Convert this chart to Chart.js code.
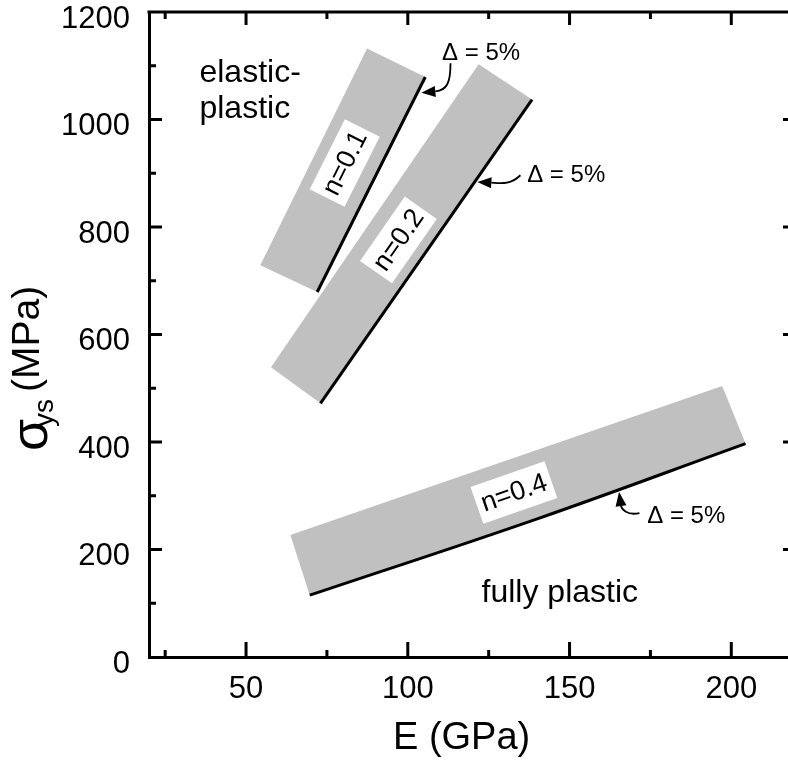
<!DOCTYPE html>
<html>
<head>
<meta charset="utf-8">
<script src="https://cdn.jsdelivr.net/npm/chart.js@4"></script>
<style>
  html, body { margin: 0; padding: 0; background: #fff; overflow: hidden; }
  canvas { display: block; }
</style>
</head>
<body>
<canvas id="c" width="820" height="768"></canvas>
<script>
// Yield strength vs. elastic modulus: bands of constant hardening exponent n
const xMajorTicks = [50, 100, 150, 200];
const xMinorTicks = [25, 75, 125, 175];
const yMajorTicks = [0, 200, 400, 600, 800, 1000, 1200];
const yMinorTicks = [100, 300, 500, 700, 900, 1100];

// grey bands (E in GPa, sigma_ys in MPa), closed outlines
const bandN01 = [{x: 87.4, y: 1132}, {x: 105.4, y: 1079}, {x: 72.0, y: 679}, {x: 54.4, y: 729}, {x: 87.4, y: 1132}];
const bandN02 = [{x: 121.9, y: 1103}, {x: 138.4, y: 1037}, {x: 73.0, y: 472}, {x: 57.7, y: 539}, {x: 121.9, y: 1103}];
const bandN04 = [{x: 63.7, y: 227}, {x: 197.2, y: 504}, {x: 204.4, y: 397}, {x: 140.0, y: 257}, {x: 69.7, y: 115}, {x: 63.7, y: 227}];

// Delta = 5% boundary of each band
const edgeN01 = [{x: 105.4, y: 1079}, {x: 72.0, y: 679}];
const edgeN02 = [{x: 138.4, y: 1037}, {x: 73.0, y: 472}];
const edgeN04 = [{x: 69.7, y: 115}, {x: 140.0, y: 257}, {x: 204.4, y: 397}];

const bandLabels = ['n=0.1', 'n=0.2', 'n=0.4'];
const bandLabelAt = [{x: 80.5, y: 919}, {x: 97.1, y: 776}, {x: 132.8, y: 306}];

const deltaText = '\u0394 = 5%';
const deltaTextAt = [{x: 110.6, y: 1110}, {x: 136.9, y: 884}, {x: 174.0, y: 249}];
// each arrow: start, control 1, control 2, tip
const deltaArrows = [
  [{x: 113.2, y: 1104.6}, {x: 113.2, y: 1069.3}, {x: 112.2, y: 1054.4}, {x: 104.2, y: 1049.8}],
  [{x: 134.8, y: 896.3}, {x: 131.7, y: 877.7}, {x: 128.6, y: 881.5}, {x: 121.5, y: 883.9}],
  [{x: 171.6, y: 267.8}, {x: 167.6, y: 262.2}, {x: 166.0, y: 277.2}, {x: 165.3, y: 306.8}]
];

const regionText = ['elastic-', 'plastic', 'fully plastic'];
const regionTextAt = [{x: 35.6, y: 1069}, {x: 35.6, y: 1002}, {x: 122.8, y: 103}];

const FONT = '"Liberation Sans", Arial, Helvetica, sans-serif';
Chart.defaults.font.family = FONT;
Chart.defaults.color = '#000';

const edges = [edgeN01, edgeN02, edgeN04];

const annotate = {
  id: 'annotate',
  afterDatasetsDraw(chart) {
    const {ctx, scales: {x, y}} = chart;
    const px = p => [x.getPixelForValue(p.x), y.getPixelForValue(p.y)];
    ctx.save();

    // white label boxes along each band
    ctx.font = '27px ' + FONT;
    bandLabels.forEach((t, i) => {
      const e = edges[i];
      const a = px(e[0]), b = px(e[e.length - 1]);
      let ang = Math.atan2(b[1] - a[1], b[0] - a[0]);
      if (ang > Math.PI / 2) ang -= Math.PI;
      if (ang < -Math.PI / 2) ang += Math.PI;
      const c = px(bandLabelAt[i]);
      const w = ctx.measureText(t).width + 10, h = 39;
      ctx.save();
      ctx.translate(c[0], c[1]);
      ctx.rotate(ang);
      ctx.fillStyle = '#fff';
      ctx.fillRect(-w / 2, -h / 2, w, h);
      ctx.fillStyle = '#000';
      ctx.textAlign = 'center';
      ctx.textBaseline = 'middle';
      ctx.fillText(t, 0, 1);
      ctx.restore();
    });

    // Delta = 5% notes with curved arrows
    ctx.font = '24px ' + FONT;
    ctx.textAlign = 'left';
    ctx.textBaseline = 'alphabetic';
    ctx.fillStyle = '#000';
    deltaTextAt.forEach(p => {
      const q = px(p);
      ctx.fillText(deltaText, q[0], q[1]);
    });
    ctx.strokeStyle = '#000';
    ctx.lineWidth = 1.8;
    deltaArrows.forEach(arr => {
      const [p0, c1, c2, p3] = arr.map(px);
      const ang = Math.atan2(p3[1] - c2[1], p3[0] - c2[0]);
      const L = 14, W = 5.5;
      const bx = p3[0] - L * Math.cos(ang), by = p3[1] - L * Math.sin(ang);
      ctx.beginPath();
      ctx.moveTo(p0[0], p0[1]);
      ctx.bezierCurveTo(c1[0], c1[1], c2[0], c2[1], bx, by);
      ctx.stroke();
      ctx.beginPath();
      ctx.moveTo(p3[0], p3[1]);
      ctx.lineTo(bx - W * Math.sin(ang), by + W * Math.cos(ang));
      ctx.lineTo(bx + W * Math.sin(ang), by - W * Math.cos(ang));
      ctx.closePath();
      ctx.fill();
    });

    // regime names
    ctx.font = '32px ' + FONT;
    regionText.forEach((t, i) => {
      const q = px(regionTextAt[i]);
      ctx.fillText(t, q[0], q[1]);
    });
    ctx.restore();
  },
  afterDraw(chart) {
    const {ctx, chartArea: a, scales: {x, y}} = chart;
    ctx.save();
    ctx.strokeStyle = '#000';
    ctx.lineWidth = 3;
    ctx.lineCap = 'butt';
    // top and right frame lines
    ctx.beginPath();
    ctx.moveTo(a.left - 1.5, a.top);
    ctx.lineTo(a.right + 1.5, a.top);
    ctx.moveTo(a.right, a.top);
    ctx.lineTo(a.right, a.bottom);
    ctx.stroke();
    // inward tick marks on all four sides
    const tick = (vals, len, lenTop) => {
      vals.forEach(v => {
        const p = x.getPixelForValue(v);
        ctx.moveTo(p, a.bottom); ctx.lineTo(p, a.bottom - len);
        ctx.moveTo(p, a.top); ctx.lineTo(p, a.top + lenTop);
      });
    };
    const tickY = (vals, len) => {
      vals.forEach(v => {
        const p = y.getPixelForValue(v);
        ctx.moveTo(a.left, p); ctx.lineTo(a.left + len, p);
        ctx.moveTo(a.right, p); ctx.lineTo(a.right - len, p);
      });
    };
    ctx.beginPath();
    tick(xMajorTicks, 15, 13);
    tick(xMinorTicks, 7, 7);
    tickY(yMajorTicks.filter(v => v > 0 && v < 1200), 13);
    tickY(yMinorTicks, 7);
    ctx.stroke();

    // axis titles
    ctx.fillStyle = '#000';
    ctx.textBaseline = 'alphabetic';
    ctx.textAlign = 'left';
    ctx.font = '38px ' + FONT;
    ctx.fillText('E (GPa)', 393, 749);

    ctx.save();
    ctx.rotate(-Math.PI / 2);
    ctx.font = '52px ' + FONT;
    ctx.fillText('\u03C3', -451, 47);
    ctx.font = '28px ' + FONT;
    ctx.fillText('ys', -427, 53);
    ctx.font = '39px ' + FONT;
    ctx.fillText('(MPa)', -392, 39);
    ctx.restore();
    ctx.restore();
  }
};

const edgeStyle = {showLine: true, borderColor: '#000', borderWidth: 3, pointRadius: 0, fill: false, order: 0};
const bandStyle = {showLine: true, borderWidth: 0, borderColor: 'rgba(0,0,0,0)', backgroundColor: '#c0c0c0', fill: 'shape', pointRadius: 0, order: 1};

new Chart(document.getElementById('c'), {
  type: 'scatter',
  data: {
    datasets: [
      Object.assign({label: 'n=0.1 edge', data: edgeN01}, edgeStyle),
      Object.assign({label: 'n=0.2 edge', data: edgeN02}, edgeStyle),
      Object.assign({label: 'n=0.4 edge', data: edgeN04, tension: 0.4}, edgeStyle),
      Object.assign({label: 'n=0.1', data: bandN01}, bandStyle),
      Object.assign({label: 'n=0.2', data: bandN02}, bandStyle),
      Object.assign({label: 'n=0.4', data: bandN04}, bandStyle)
    ]
  },
  options: {
    responsive: false,
    animation: false,
    devicePixelRatio: 1,
    events: [],
    layout: {padding: {left: 0, top: 12, right: 24, bottom: 0}},
    plugins: {legend: {display: false}, tooltip: {enabled: false}},
    scales: {
      x: {
        type: 'linear', min: 20, max: 220,
        afterBuildTicks: s => { s.ticks = xMajorTicks.map(v => ({value: v})); },
        afterFit: s => { s.height = 111; s.paddingLeft = 0; s.paddingRight = 0; },
        grid: {display: false, drawTicks: false},
        border: {display: true, color: '#000', width: 3},
        ticks: {color: '#000', font: {size: 31}, padding: 14, autoSkip: false, maxRotation: 0,
                callback: v => String(v)}
      },
      y: {
        type: 'linear', min: 0, max: 1200,
        afterBuildTicks: s => { s.ticks = yMajorTicks.map(v => ({value: v})); },
        afterFit: s => { s.width = 149; s.paddingTop = 0; s.paddingBottom = 0; },
        grid: {display: false, drawTicks: false},
        border: {display: true, color: '#000', width: 3},
        ticks: {color: '#000', font: {size: 31}, padding: 19, labelOffset: 7, autoSkip: false,
                callback: v => String(v)}
      }
    }
  },
  plugins: [annotate]
});
</script>
</body>
</html>
